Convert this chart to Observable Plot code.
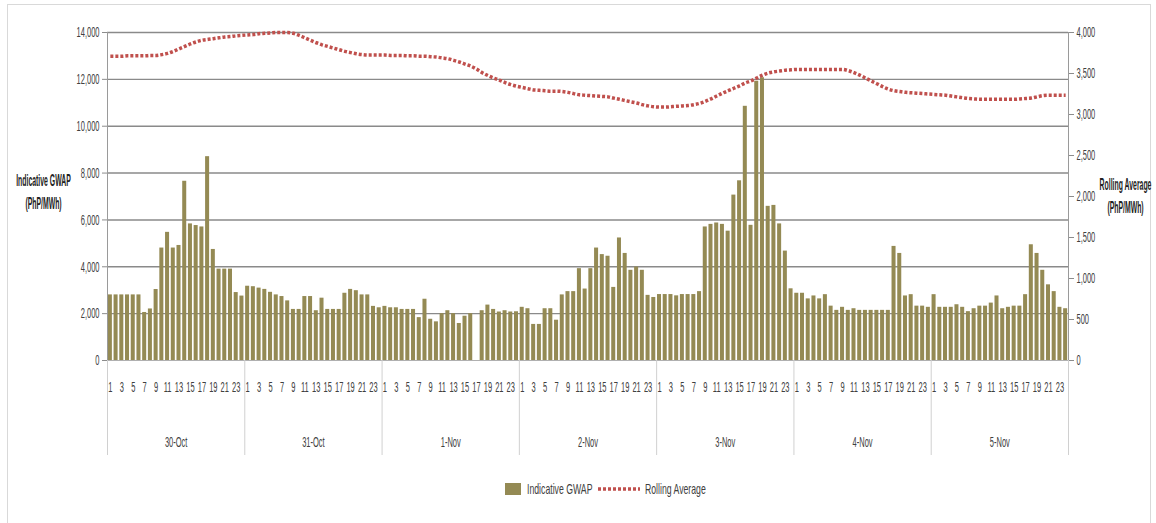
<!DOCTYPE html>
<html><head><meta charset="utf-8">
<script src="https://cdn.jsdelivr.net/npm/d3@7"></script>
<script src="https://cdn.jsdelivr.net/npm/@observablehq/plot@0.6"></script>
<style>
body{margin:0;background:#fff;font-family:"Liberation Sans",Arial,sans-serif;}
#wrap{position:relative;width:1156px;height:523px;overflow:hidden;background:#fff;}
#frame{position:absolute;left:7px;top:4px;width:1144px;height:540px;border:1px solid #d9d9d9;box-sizing:border-box;}
#chart{position:absolute;left:0;top:0;}
#legend{position:absolute;left:0;top:478px;width:1156px;height:22px;}
.lg{position:absolute;top:0;height:22px;}
.lt{position:absolute;top:2px;font-size:15px;color:#404040;transform:scaleX(0.58);transform-origin:0 50%;white-space:nowrap;}
</style></head>
<body>
<div id="wrap">
  <div id="frame"></div>
  <div id="chart"></div>
  <div id="legend">
    <div class="lg" style="left:505px;top:5px;width:16px;height:12px;background:#948A54;"></div>
    <div class="lt" style="left:527px;">Indicative GWAP</div>
    <svg class="lg" style="left:597px;" width="44" height="22"><line x1="1" y1="11" x2="43" y2="11" stroke="#C0504D" stroke-width="3.5" stroke-dasharray="3,2"/></svg>
    <div class="lt" style="left:645px;">Rolling Average</div>
  </div>
</div>
<script>
const days = ["30-Oct","31-Oct","1-Nov","2-Nov","3-Nov","4-Nov","5-Nov"];
const hours = [1,2,3,4,5,6,7,8,9,10,11,12,13,14,15,16,17,18,19,20,21,22,23,24];
const leftTicks = [0,2000,4000,6000,8000,10000,12000,14000];
const rightTicks = [0,500,1000,1500,2000,2500,3000,3500,4000];

const gwap30Oct = [2800,2800,2800,2800,2800,2800,2050,2200,3030,4800,5470,4800,4910,7650,5830,5760,5700,8700,4740,3900,3900,3900,2900,2750];
const gwap31Oct = [3170,3150,3090,3035,2910,2800,2730,2545,2180,2180,2730,2730,2125,2660,2180,2180,2180,2870,3035,2980,2800,2800,2310,2250];
const gwap1Nov  = [2310,2250,2250,2180,2180,2180,1830,2615,1760,1650,2000,2125,2000,1580,1890,2000,0,2125,2365,2180,2070,2125,2070,2080];
const gwap2Nov  = [2270,2210,1540,1540,2210,2210,1720,2800,2940,2940,3920,3050,3920,4800,4520,4450,3120,5230,4570,3850,3990,3850,2780,2690];
const gwap3Nov  = [2815,2815,2815,2760,2815,2815,2815,2940,5700,5810,5870,5810,5520,7060,7670,10850,5770,11920,12070,6580,6620,5830,4670,3060];
const gwap4Nov  = [2870,2870,2630,2755,2630,2810,2320,2140,2270,2140,2210,2140,2140,2140,2140,2140,2140,4870,4570,2755,2810,2320,2320,2270];
const gwap5Nov  = [2810,2270,2270,2270,2380,2270,2085,2210,2320,2320,2450,2755,2210,2270,2320,2320,2810,4940,4570,3850,3230,2940,2270,2210];

const avg30Oct = [3710,3710,3710,3715,3715,3715,3715,3720,3720,3730,3745,3770,3800,3830,3860,3885,3905,3915,3925,3935,3945,3950,3960,3965];
const avg31Oct = [3970,3975,3985,3990,3995,4000,4000,4000,3990,3965,3935,3905,3875,3850,3830,3810,3790,3770,3755,3740,3730,3725,3725,3725];
const avg1Nov  = [3725,3720,3720,3720,3715,3715,3710,3710,3705,3700,3690,3680,3660,3640,3615,3590,3555,3510,3475,3445,3420,3390,3365,3345];
const avg2Nov  = [3330,3315,3300,3295,3290,3285,3285,3280,3270,3255,3240,3235,3230,3225,3220,3215,3200,3185,3170,3155,3140,3120,3105,3095];
const avg3Nov  = [3090,3090,3095,3100,3105,3110,3120,3135,3160,3190,3225,3260,3290,3320,3350,3385,3410,3445,3480,3505,3520,3530,3540,3545];
const avg4Nov  = [3550,3550,3550,3550,3550,3550,3550,3550,3550,3535,3510,3480,3445,3410,3375,3340,3310,3290,3280,3270,3265,3260,3255,3250];
const avg5Nov  = [3245,3240,3235,3225,3215,3205,3195,3190,3185,3185,3185,3185,3185,3185,3185,3190,3195,3200,3215,3230,3235,3235,3235,3235];

const gwapByDay = [gwap30Oct,gwap31Oct,gwap1Nov,gwap2Nov,gwap3Nov,gwap4Nov,gwap5Nov];
const avgByDay = [avg30Oct,avg31Oct,avg1Nov,avg2Nov,avg3Nov,avg4Nov,avg5Nov];

const rows = [];
days.forEach((day, d) => hours.forEach((h, k) => rows.push({i: d*24 + k, day, hour: h, gwap: gwapByDay[d][k], avg: avgByDay[d][k]})));
const n = rows.length;
const ratio = leftTicks[leftTicks.length-1] / rightTicks[rightTicks.length-1];
const fmt = d3.format(",");
const F = '"Liberation Sans",Arial,sans-serif';

const chart = Plot.plot({
  width: 1156, height: 470,
  marginLeft: 107, marginRight: 88, marginTop: 32, marginBottom: 110,
  x: {domain: [0, n], axis: null},
  y: {domain: [0, 14000], axis: null},
  style: {fontFamily: F, fontSize: "15px", color: "#404040", background: "transparent", overflow: "visible"},
  marks: [
    Plot.ruleY(leftTicks.slice(1), {stroke: "#8a8a8a", strokeWidth: 1.4}),
    Plot.rectY(rows, {x1: "i", x2: d => d.i + 1, y: "gwap", fill: "#948A54", insetLeft: 0.85, insetRight: 0.85}),
    Plot.ruleY([0], {stroke: "#b0b0b0", strokeWidth: 1}),
    Plot.ruleX([0, n], {stroke: "#9a9a9a", strokeWidth: 1}),
    Plot.line(rows, {x: d => d.i + 0.5, y: d => d.avg * ratio, stroke: "#C0504D", strokeWidth: 3.5, strokeDasharray: "3,2", strokeLinecap: "butt", curve: "monotone-x"}),
    Plot.axisY({anchor: "left", ticks: leftTicks, tickFormat: fmt, tickSize: 5, tickPadding: 3, stroke: "#8c8c8c", label: null}),
    Plot.axisY({anchor: "right", ticks: rightTicks.map(v => v * ratio), tickFormat: v => fmt(Math.round(v / ratio)), tickSize: 5, tickPadding: 3, stroke: "#8c8c8c", label: null}),
    Plot.axisX({ticks: rows.filter(r => r.hour % 2 === 1).map(r => r.i + 0.5), tickFormat: v => rows[Math.floor(v)].hour, tickSize: 0, tickPadding: 21, label: null}),
    Plot.ruleX(days.map((d, k) => k * 24).concat([n]), {stroke: "#d0d0d0", strokeWidth: 1, insetTop: 328, insetBottom: -95}),
    Plot.text(days, {x: (d, k) => k * 24 + 12, text: d => d, frameAnchor: "bottom", lineAnchor: "top", dy: 76, fontSize: 15, fill: "#404040"}),
    Plot.text(["Indicative GWAP\n(PhP/MWh)"], {frameAnchor: "left", dx: -64, dy: -6, fontWeight: "bold", fontSize: 16, lineHeight: 1.4, fill: "#222", textAnchor: "middle"}),
    Plot.text(["Rolling Average\n(PhP/MWh)"], {frameAnchor: "right", dx: 57, dy: -2, fontWeight: "bold", fontSize: 16, lineHeight: 1.4, fill: "#222", textAnchor: "middle"})
  ]
});
document.getElementById("chart").appendChild(chart);

// condense text horizontally like the reference rendering
chart.querySelectorAll("text").forEach(t => {
  const fw = t.closest("[font-weight]");
  const S = fw && fw.getAttribute("font-weight") === "bold" ? 0.43 : 0.5;
  const tr = t.getAttribute("transform");
  if (tr) t.setAttribute("transform", tr + ` scale(${S},1)`);
  else {
    const x = +(t.getAttribute("x") || 0), y = +(t.getAttribute("y") || 0);
    t.removeAttribute("x"); t.removeAttribute("y");
    t.setAttribute("transform", `translate(${x},${y}) scale(${S},1)`);
  }
});
</script>
</body></html>
